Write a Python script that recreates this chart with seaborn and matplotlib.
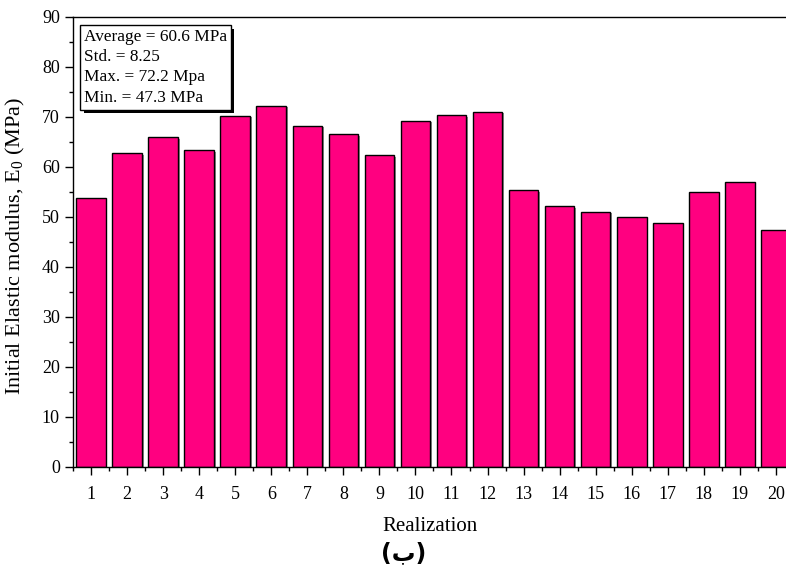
import pandas as pd
import matplotlib
matplotlib.use("Agg")
import matplotlib.pyplot as plt
import matplotlib.patheffects as pe
from matplotlib.ticker import MultipleLocator, FixedLocator
import seaborn as sns

# data
realization = [str(i) for i in range(1, 21)]
e0_mpa = [53.8, 62.7, 65.9, 63.3, 70.2, 72.2, 68.2, 66.5, 62.3, 69.2,
          70.3, 71.0, 55.3, 52.1, 51.0, 49.9, 48.7, 54.9, 57.0, 47.3]
stats_lines = ["Average = 60.6 MPa", "Std. = 8.25", "Max. = 72.2 Mpa", "Min. = 47.3 MPa"]

df = pd.DataFrame({"Realization": realization, "E0": e0_mpa})

sns.set_style("ticks")
plt.rcParams["font.family"] = ["Liberation Serif", "DejaVu Serif"]
plt.rcParams["mathtext.fontset"] = "custom"
plt.rcParams["mathtext.rm"] = "Liberation Serif"
plt.rcParams["mathtext.it"] = "Liberation Serif:italic"
plt.rcParams["text.color"] = "black"
plt.rcParams["axes.labelcolor"] = "black"
plt.rcParams["xtick.color"] = "black"
plt.rcParams["ytick.color"] = "black"

fig = plt.figure(figsize=(7.86, 5.69), dpi=100)
ax = fig.add_axes([0.0929, 0.180, 0.9071, 0.7907])

sns.barplot(data=df, x="Realization", y="E0", color="#FF0080", saturation=1,
            width=0.82, edgecolor="black", linewidth=1.0, ax=ax)
for bar in ax.patches:
    bar.set_path_effects([pe.withSimplePatchShadow(offset=(1.2, -1.2),
                                                   shadow_rgbFace="0.45", alpha=0.8)])

ax.set_xlim(-0.5, 19.28)
ax.set_ylim(0, 90)
ax.yaxis.set_major_locator(MultipleLocator(10))
ax.yaxis.set_minor_locator(MultipleLocator(5))
ax.xaxis.set_minor_locator(FixedLocator([i + 0.5 for i in range(-1, 20)]))
ax.tick_params(axis="both", which="major", direction="out", length=6, width=1,
               labelsize=13, color="black", labelcolor="black")
ax.tick_params(axis="both", which="minor", direction="out", length=3, width=1, color="black")
ax.tick_params(axis="x", which="major", pad=8)

for s in ["left", "bottom", "top"]:
    ax.spines[s].set_visible(True)
    ax.spines[s].set_linewidth(1.0)
    ax.spines[s].set_color("black")
ax.spines["right"].set_visible(False)

ax.set_xlabel("Realization", fontsize=15)
ax.xaxis.set_label_coords(0.5, -0.112)
ax.set_ylabel("Initial Elastic modulus, E$_0$ (MPa)", fontsize=16)
ax.yaxis.set_label_coords(-0.064, 0.49)

t = ax.text(0.0155, 0.973, "\n".join(stats_lines), transform=ax.transAxes,
            ha="left", va="top", fontsize=12.4, linespacing=1.36,
            bbox=dict(boxstyle="square,pad=0.22", fc="white", ec="black", lw=1))
t.get_bbox_patch().set_path_effects([pe.withSimplePatchShadow(offset=(2.5, -2.5),
                                                              shadow_rgbFace="black", alpha=1)])

fig.text(0.514, 0.028, "(ب)", ha="center", va="center", fontsize=17,
         fontweight="bold", family=["DejaVu Sans"])

fig.savefig("out.png", dpi=100)
